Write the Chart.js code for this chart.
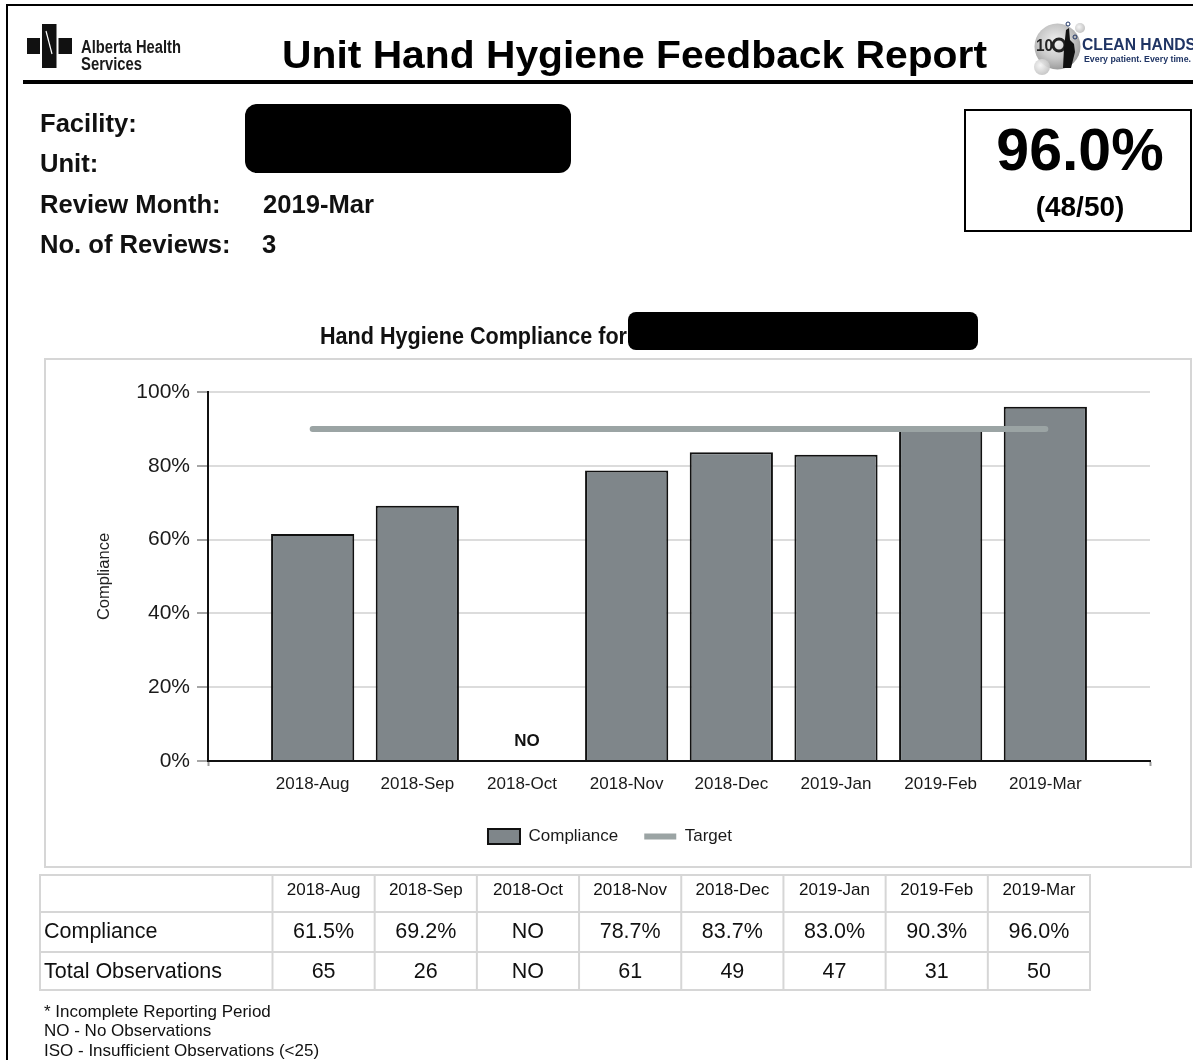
<!DOCTYPE html>
<html>
<head>
<meta charset="utf-8">
<script src="https://cdn.jsdelivr.net/npm/chart.js@4.4.1/dist/chart.umd.min.js"></script>
<style>
html,body{margin:0;padding:0;background:#fff;}
body{width:1193px;height:1060px;position:relative;overflow:hidden;font-family:"Liberation Sans",Arial,sans-serif;}
#frame{position:absolute;left:6px;top:4px;width:1300px;height:1200px;border:2px solid #000;box-sizing:border-box;}
#chartBox{position:absolute;left:44px;top:358px;width:1148px;height:510px;border:2px solid #d6d6d6;box-sizing:border-box;}
#chartWrap{position:absolute;left:46px;top:360px;width:1144px;height:506px;}
#page{position:absolute;left:0;top:0;}
</style>
</head>
<body>
<div id="frame"></div>
<div id="chartBox"></div>
<div id="chartWrap"><canvas id="c"></canvas></div>
<svg id="page" width="1193" height="1060" xmlns="http://www.w3.org/2000/svg" font-family="Liberation Sans, Arial, sans-serif">
  <defs>
    <radialGradient id="bub" cx="0.45" cy="0.4" r="0.6">
      <stop offset="0" stop-color="#f2f2f2"/>
      <stop offset="0.6" stop-color="#c9c9c9"/>
      <stop offset="1" stop-color="#9d9d9d"/>
    </radialGradient>
    <radialGradient id="bub2" cx="0.4" cy="0.4" r="0.6">
      <stop offset="0" stop-color="#f5f5f5"/>
      <stop offset="1" stop-color="#c4c4c4"/>
    </radialGradient>
  </defs>
  <!-- AHS logo -->
  <rect x="27" y="38" width="13" height="16" fill="#111"/>
  <rect x="42" y="24" width="14.5" height="44" fill="#111"/>
  <rect x="58.5" y="38" width="13.5" height="16" fill="#111"/>
  <path d="M46 31 L52 54" stroke="#fff" stroke-width="1.2"/>
  <text x="81" y="52.5" font-weight="bold" font-size="17.5" textLength="100" lengthAdjust="spacingAndGlyphs" fill="#1a1a1a">Alberta Health</text>
  <text x="81" y="69.5" font-weight="bold" font-size="17.5" textLength="61" lengthAdjust="spacingAndGlyphs" fill="#1a1a1a">Services</text>
  <!-- Title -->
  <text x="282" y="68" font-weight="bold" font-size="39" textLength="705" lengthAdjust="spacingAndGlyphs" fill="#000">Unit Hand Hygiene Feedback Report</text>
  <!-- Clean hands logo -->
  <circle cx="1057.5" cy="46.5" r="23" fill="url(#bub)"/>
  <circle cx="1042" cy="67" r="8" fill="url(#bub2)" opacity="0.9"/>
  <circle cx="1080" cy="28" r="5" fill="url(#bub2)"/>
  <text x="1036" y="51" font-weight="bold" font-size="17" fill="#222" textLength="17" lengthAdjust="spacingAndGlyphs">10</text>
  <circle cx="1059" cy="45" r="6" fill="none" stroke="#222" stroke-width="3"/>
  <path d="M1063 68 L1064 48 L1066 30 L1069 28 L1070 40 L1074 44 L1075 52 L1071 68 Z" fill="#111"/>
  <circle cx="1068" cy="24" r="2" fill="none" stroke="#1f3464" stroke-width="1"/>
  <circle cx="1075" cy="37" r="2" fill="none" stroke="#1f3464" stroke-width="1"/>
  <text x="1082" y="50" font-weight="bold" font-size="16.5" fill="#1f3464" textLength="114" lengthAdjust="spacingAndGlyphs">CLEAN HANDS</text>
  <text x="1084" y="61.5" font-weight="bold" font-size="9" fill="#1f3464" textLength="107" lengthAdjust="spacingAndGlyphs">Every patient. Every time.</text>
  <!-- Header rule -->
  <rect x="23" y="80" width="1175" height="4" fill="#000"/>
  <!-- Info -->
  <g font-weight="bold" font-size="25.6" fill="#111">
    <text x="40" y="131.5">Facility:</text>
    <text x="40" y="171.5">Unit:</text>
    <text x="40" y="213">Review Month:</text>
    <text x="263" y="213">2019-Mar</text>
    <text x="40" y="253">No. of Reviews:</text>
    <text x="262" y="253">3</text>
  </g>
  <rect x="245" y="104" width="326" height="69" rx="12" ry="12" fill="#000"/>
  <!-- KPI box -->
  <rect x="965" y="110" width="226" height="121" fill="none" stroke="#000" stroke-width="2"/>
  <text x="1080" y="170" text-anchor="middle" font-weight="bold" font-size="59" fill="#000">96.0%</text>
  <text x="1080" y="216" text-anchor="middle" font-weight="bold" font-size="28" fill="#000">(48/50)</text>
  <!-- Chart title -->
  <text x="320" y="344" font-weight="bold" font-size="23" textLength="307" lengthAdjust="spacingAndGlyphs" fill="#111">Hand Hygiene Compliance for</text>
  <rect x="628" y="312" width="350" height="38" rx="8" ry="8" fill="#000"/>
  <!-- Table -->
  <g id="tbl"></g>
  <!-- Footnotes -->
  <g font-size="17" fill="#111">
    <text x="44" y="1016.5">* Incomplete Reporting Period</text>
    <text x="44" y="1036">NO - No Observations</text>
    <text x="44" y="1055.5">ISO - Insufficient Observations (&lt;25)</text>
  </g>
</svg>
<script>
// ---- Data ----
const categories = ['2018-Aug', '2018-Sep', '2018-Oct', '2018-Nov', '2018-Dec', '2019-Jan', '2019-Feb', '2019-Mar'];
const compliance = [61.5, 69.2, null, 78.7, 83.7, 83.0, 90.3, 96.0];
const target = [90, 90, 90, 90, 90, 90, 90, 90];
const observations = [65, 26, null, 61, 49, 47, 31, 50];
const yTickValues = [0, 20, 40, 60, 80, 100];
const noObsLabel = 'NO';

// ---- Table (built from the arrays) ----
(function buildTable(){
  const NS = 'http://www.w3.org/2000/svg';
  const g = document.getElementById('tbl');
  const left = 40, firstCol = 272.5, colW = 102.19, right = firstCol + colW * categories.length;
  const rowY = [875, 912, 952, 990];
  const mk = (tag, attrs, txt) => {
    const el = document.createElementNS(NS, tag);
    for (const k in attrs) el.setAttribute(k, attrs[k]);
    if (txt !== undefined) el.textContent = txt;
    g.appendChild(el);
    return el;
  };
  rowY.forEach(y => mk('line', {x1: left - 1, x2: right + 1, y1: y, y2: y, stroke: '#d6d6d6', 'stroke-width': 2}));
  const xs = [left, firstCol];
  for (let i = 1; i <= categories.length; i++) xs.push(firstCol + colW * i);
  xs.forEach(x => mk('line', {x1: x, x2: x, y1: rowY[0], y2: rowY[3], stroke: '#d6d6d6', 'stroke-width': 2}));
  const fmt = v => v === null ? noObsLabel : v.toFixed(1) + '%';
  mk('text', {x: 44, y: 938, 'font-size': 21.5, fill: '#111'}, 'Compliance');
  mk('text', {x: 44, y: 977.5, 'font-size': 21.5, fill: '#111'}, 'Total Observations');
  categories.forEach((c, i) => {
    const cx = firstCol + colW * (i + 0.5);
    mk('text', {x: cx, y: 895, 'font-size': 17, fill: '#111', 'text-anchor': 'middle'}, c);
    mk('text', {x: cx, y: 938, 'font-size': 21.5, fill: '#111', 'text-anchor': 'middle'}, fmt(compliance[i]));
    mk('text', {x: cx, y: 977.5, 'font-size': 21.5, fill: '#111', 'text-anchor': 'middle'}, observations[i] === null ? noObsLabel : String(observations[i]));
  });
})();

// ---- Chart ----
Chart.defaults.font.family = "'Liberation Sans', Arial, sans-serif";
Chart.defaults.color = '#1a1a1a';

const barData = categories.map((c, i) => ({x: i, y: compliance[i]}));
const targetData = categories.map((c, i) => ({x: i, y: target[i]}));

const noLabelPlugin = {
  id: 'noLabels',
  afterDatasetsDraw(chart) {
    const {ctx, scales: {x, y}} = chart;
    ctx.save();
    ctx.font = "bold 17px 'Liberation Sans', Arial, sans-serif";
    ctx.fillStyle = '#111';
    ctx.textAlign = 'center';
    ctx.textBaseline = 'middle';
    compliance.forEach((v, i) => {
      if (v === null) ctx.fillText(noObsLabel, x.getPixelForValue(i) + 5, y.getPixelForValue(0) - 20);
    });
    ctx.restore();
  }
};

new Chart(document.getElementById('c'), {
  type: 'bar',
  data: {
    datasets: [
      {
        type: 'bar', label: 'Compliance', data: barData,
        backgroundColor: '#7f868a', borderColor: '#111', borderWidth: 2, borderSkipped: 'start',
        barPercentage: 0.795, categoryPercentage: 1, order: 1, pointStyle: 'rect'
      },
      {
        type: 'line', label: 'Target', data: targetData,
        borderColor: '#9ba4a4', backgroundColor: '#9ba4a4', borderWidth: 6, borderCapStyle: 'round',
        pointRadius: 0, pointHoverRadius: 0, fill: false, order: 0, pointStyle: 'line'
      }
    ]
  },
  options: {
    responsive: true, maintainAspectRatio: false, animation: false,
    layout: {padding: {left: 24, right: 40, top: 32, bottom: 11}},
    plugins: {
      legend: {
        position: 'bottom',
        labels: {
          usePointStyle: true, pointStyleWidth: 32, boxHeight: 15, padding: 26,
          color: '#1a1a1a', font: {size: 17},
          sort: (a, b) => a.datasetIndex - b.datasetIndex
        }
      },
      tooltip: {enabled: false}
    },
    scales: {
      x: {
        type: 'linear', min: -1, max: 8, offset: false,
        grid: {
          display: true, drawOnChartArea: false, drawTicks: true, tickLength: 5, tickWidth: 2, offset: false,
          tickColor: (ctx) => (ctx.tick && (ctx.tick.value === -1 || ctx.tick.value === 8)) ? '#9a9a9a' : 'rgba(0,0,0,0)'
        },
        border: {display: true, color: '#111', width: 2},
        ticks: {
          stepSize: 1, autoSkip: false, maxRotation: 0, padding: 8, color: '#1a1a1a', font: {size: 17},
          callback: (v) => categories[v] !== undefined ? categories[v] : ''
        },
        afterFit: (s) => { s.height = 41; }
      },
      y: {
        min: yTickValues[0], max: yTickValues[yTickValues.length - 1],
        afterBuildTicks: (s) => { s.ticks = yTickValues.map(v => ({value: v})); },
        ticks: {padding: 7, color: '#1a1a1a', font: {size: 21}, callback: (v) => v + '%'},
        grid: {color: '#dcdcdc', lineWidth: 2, tickLength: 11, tickColor: '#a6a6a6', tickWidth: 2},
        border: {color: '#111', width: 2},
        title: {display: true, text: 'Compliance', color: '#222', font: {size: 16.5}, padding: {top: 25, bottom: 0}},
        afterFit: (s) => { s.width = 138; }
      }
    }
  },
  plugins: [noLabelPlugin]
});
</script>
</body>
</html>
